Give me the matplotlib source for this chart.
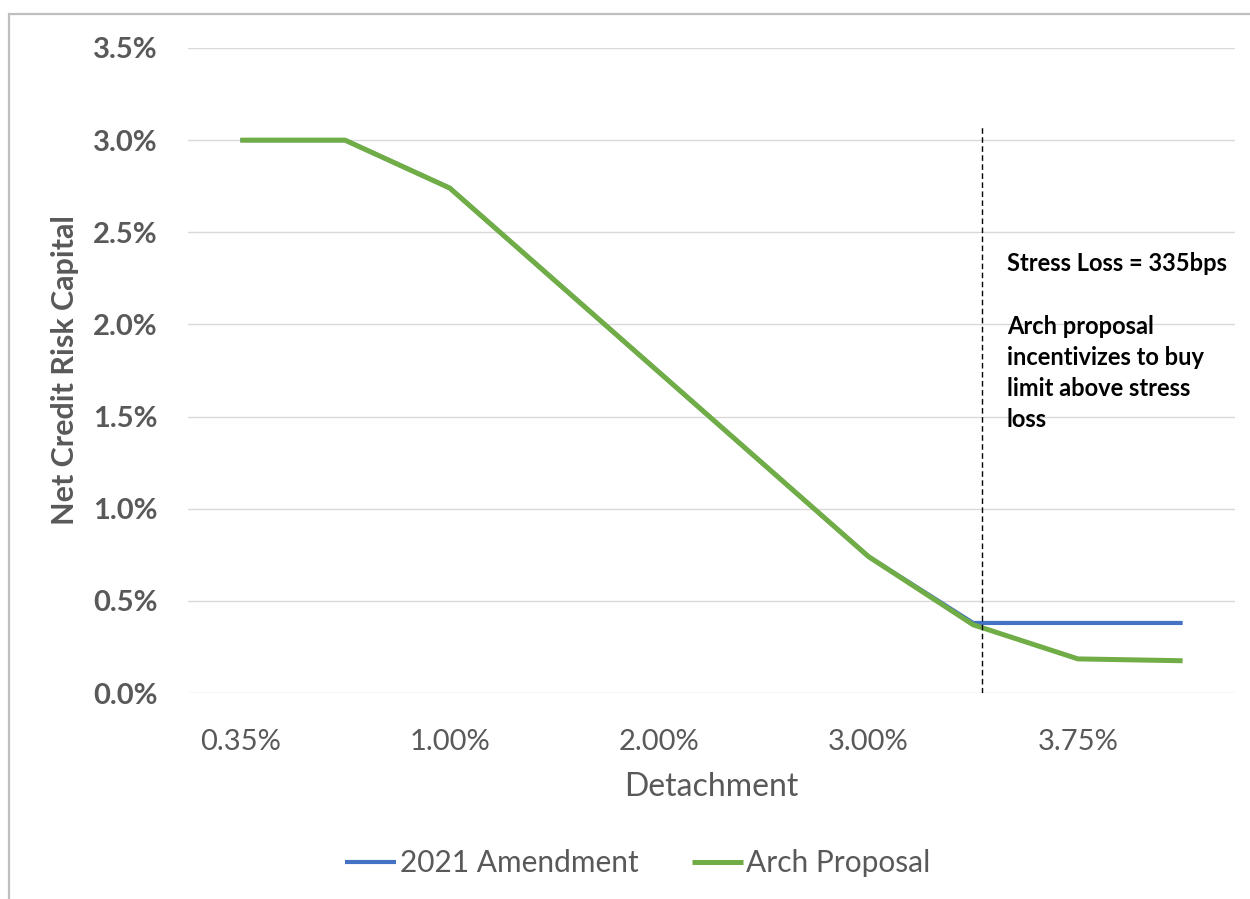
import matplotlib
matplotlib.use('Agg')
import matplotlib.pyplot as plt
from matplotlib.patches import Rectangle
from matplotlib.ticker import FuncFormatter

# Detachment categories (only every other one gets a label, as in the source chart)
detachment = ['0.35%', '0.50%', '1.00%', '1.50%', '2.00%', '2.50%', '3.00%', '3.35%', '3.75%', '4.00%']
# Net credit risk capital, in percent
amendment_2021 = [3.00, 3.00, 2.74, 2.24, 1.74, 1.24, 0.74, 0.38, 0.38, 0.38]
arch_proposal = [3.00, 3.00, 2.74, 2.24, 1.74, 1.24, 0.74, 0.37, 0.185, 0.175]
y_ticks = [0.0, 0.5, 1.0, 1.5, 2.0, 2.5, 3.0, 3.5]

# Stress loss marker (category position) and its height
STRESS_X = 7.08
STRESS_TOP = 3.07

note_title = 'Stress Loss = 335bps'
note_body = 'Arch proposal\nincentivizes to buy\nlimit above stress\nloss'

plt.rcParams['font.family'] = ['Lato', 'DejaVu Sans']
GREY = '#595959'

fig = plt.figure(figsize=(12.5, 8.99), dpi=100)
ax = fig.add_axes([188 / 1250, 1 - 693 / 899, (1235 - 188) / 1250, (693 - 48) / 899])

x = list(range(len(detachment)))
ax.plot(x, amendment_2021, color='#4472C4', lw=3.0, solid_capstyle='butt', label='2021 Amendment', zorder=3)
ax.plot(x, arch_proposal, color='#70AD47', lw=3.6, solid_capstyle='butt', label='Arch Proposal', zorder=4)

ax.vlines(STRESS_X, 0, STRESS_TOP, colors='black', linestyles=(0, (4, 2.5)), lw=1.0, zorder=5)

ax.text(STRESS_X + 0.24, 2.33, note_title, ha='left', va='center', fontsize=17,
        fontweight='bold', color='black')
ax.text(STRESS_X + 0.24, 2.05, note_body, ha='left', va='top', fontsize=17,
        fontweight='bold', color='black', linespacing=1.42)

ax.set_xlim(-0.5, len(detachment) - 0.5)
ax.set_ylim(0, 3.5)
ax.set_yticks(y_ticks)
ax.yaxis.set_major_formatter(FuncFormatter(lambda v, p: f'{v:.1f}%'))
ax.set_xticks(x[::2])
ax.set_xticklabels(detachment[::2])

ax.grid(axis='y', color='#D9D9D9', lw=1.0, zorder=0)
ax.set_axisbelow(True)
for s in ax.spines.values():
    s.set_visible(False)
ax.tick_params(axis='both', length=0)
ax.tick_params(axis='y', pad=22, labelsize=21, labelcolor=GREY)
ax.tick_params(axis='x', pad=26, labelsize=21, labelcolor=GREY)
for lbl in ax.get_yticklabels():
    lbl.set_fontweight('bold')

ax.set_ylabel('Net Credit Risk Capital', fontsize=22, fontweight='bold', color=GREY, labelpad=10)
ax.set_xlabel('Detachment', fontsize=23, color=GREY, labelpad=12)

leg = fig.legend(loc='center', bbox_to_anchor=(638 / 1250, 1 - 863 / 899), ncol=2, frameon=False,
                 fontsize=21.5, handlelength=1.7, handletextpad=0.12, columnspacing=1.8)
for t in leg.get_texts():
    t.set_color(GREY)

# light outer frame like the pasted chart area
fig.add_artist(Rectangle((9 / 1250, -0.1), 1.2, 1.1 - 14 / 899, transform=fig.transFigure,
                         fill=False, edgecolor='#BFBFBF', lw=1.6))

fig.savefig('out.png', dpi=100)
